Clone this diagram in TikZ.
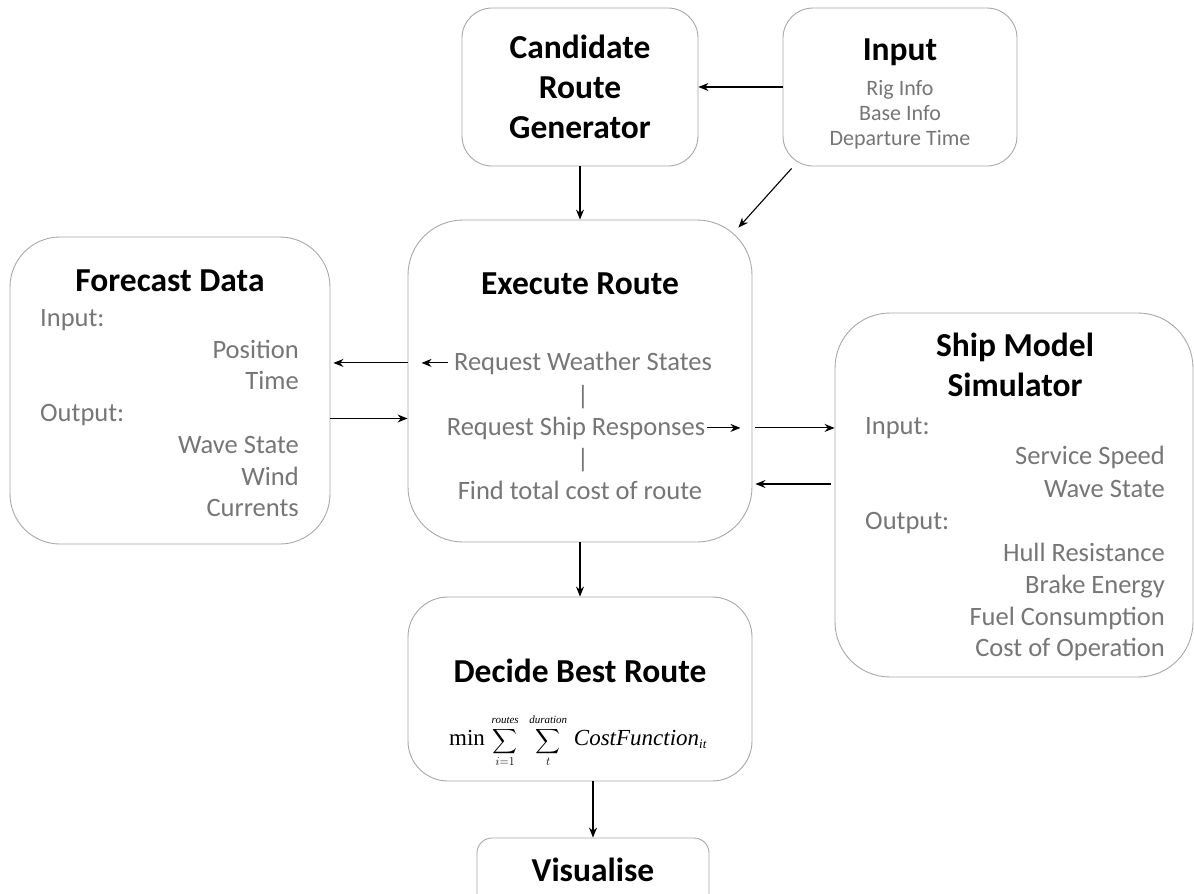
\documentclass[tikz,border=0pt]{standalone}
\usepackage{amsmath}
\usepackage{fontspec}
\setmainfont{Carlito}
\newfontfamily\tnr{Liberation Serif}
\usetikzlibrary{arrows.meta}
\definecolor{txtgray}{HTML}{767676}
\definecolor{boxgray}{HTML}{A8A8A8}
\newcommand{\limtxt}[1]{\mbox{\tnr\itshape\fontsize{11}{11}\selectfont #1}}
\begin{document}
\begin{tikzpicture}[x=1pt,y=-1pt,
  box/.style={draw=boxgray,line width=0.9pt,rounded corners=#1,inner sep=0pt,fill=white},
  ttl/.style={font=\bfseries\fontsize{33.5}{40}\selectfont,align=center,inner sep=0pt},
  gtxt/.style={text=txtgray,font=\fontsize{26.5}{30}\selectfont,inner sep=0pt},
  stxt/.style={text=txtgray,font=\fontsize{22}{26}\selectfont,inner sep=0pt,align=center},
  conn/.style={-{Stealth[length=10pt,width=8pt]},line width=1.1pt,black}]
\useasboundingbox (0,0) rectangle (1194,894);
% boxes
\node[box=30pt,minimum width=236pt,minimum height=158pt] (cand) at (580,87) {};
\node[box=30pt,minimum width=234pt,minimum height=158pt] (input) at (900,87) {};
\node[box=50pt,minimum width=320pt,minimum height=307pt] (fc) at (170,390.5) {};
\node[box=55pt,minimum width=344pt,minimum height=322pt] (exec) at (580,381) {};
\node[box=55pt,minimum width=358pt,minimum height=364pt] (ship) at (1014,495) {};
\node[box=40pt,minimum width=344pt,minimum height=184pt] (decide) at (580,689) {};
\node[box=15pt,minimum width=232pt,minimum height=80pt] (vis) at (593,878) {};
% texts
\node[ttl,anchor=base] (candt) at (580,138) {Candidate\\Route\\Generator};
\node[ttl,anchor=base] (inputt) at (900,60) {Input};
\node[stxt,anchor=base] (in1) at (900,95) {Rig Info};
\node[stxt,anchor=base] (in2) at (900,120) {Base Info};
\node[stxt,anchor=base] (in3) at (900,145) {Departure Time};
\node[ttl,anchor=base] (fct) at (170,291) {Forecast Data};
\node[gtxt,anchor=base west] (fin) at (40,326) {Input:};
\node[gtxt,anchor=base east] (fpos) at (299,358) {Position};
\node[gtxt,anchor=base east] (ftime) at (299,389) {Time};
\node[gtxt,anchor=base west] (fout) at (40,421) {Output:};
\node[gtxt,anchor=base east] (fwave) at (299,453) {Wave State};
\node[gtxt,anchor=base east] (fwind) at (299,485) {Wind};
\node[gtxt,anchor=base east] (fcur) at (299,516) {Currents};
\node[ttl,anchor=base] (exect) at (580,294) {Execute Route};
\node[gtxt,anchor=base] (rw) at (583,370) {Request Weather States};
\node[gtxt,anchor=base] (bar1) at (583,404) {|};
\node[gtxt,anchor=base] (rs) at (576,435) {Request Ship Responses};
\node[gtxt,anchor=base] (bar2) at (583,467) {|};
\node[gtxt,anchor=base] (ft) at (580,499) {Find total cost of route};
\node[ttl,anchor=base] (shipt) at (1015,396) {Ship Model\\Simulator};
\node[gtxt,anchor=base west] (sin) at (865,434) {Input:};
\node[gtxt,anchor=base east] (s1) at (1165,464) {Service Speed};
\node[gtxt,anchor=base east] (s2) at (1165,497) {Wave State};
\node[gtxt,anchor=base west] (sout) at (865,529) {Output:};
\node[gtxt,anchor=base east] (s3) at (1165,561) {Hull Resistance};
\node[gtxt,anchor=base east] (s4) at (1165,593) {Brake Energy};
\node[gtxt,anchor=base east] (s5) at (1165,625) {Fuel Consumption};
\node[gtxt,anchor=base east] (s6) at (1165,656) {Cost of Operation};
\node[ttl,anchor=base] (dect) at (580,682) {Decide Best Route};
\node[inner sep=0pt,font=\fontsize{17}{22}\selectfont] (formula) at (578,741)
  {$\displaystyle\mbox{\tnr\fontsize{23}{23}\selectfont min}\ \sum_{i=1}^{\limtxt{routes}}\ \ \sum_{t}^{\limtxt{duration}}\ \mbox{\tnr\itshape\fontsize{23}{23}\selectfont CostFunction}_{\mbox{\tnr\itshape\fontsize{13}{13}\selectfont it}}$};
\node[ttl,anchor=base] (vist) at (593,881) {Visualise};
% connectors
\draw[conn] (input.west) -- (cand.east);
\draw[conn] (cand.south) -- (exec.north);
\draw[conn] ([xshift=9pt,yshift=-2pt]input.south west) -- ([shift={(-14,8)}]exec.north east);
\draw[conn] ([xshift=-6pt]rw.west) -- ([xshift=14pt]exec.west |- rw.center);
\draw[conn] (exec.west |- rw.center) -- ([xshift=3pt]fc.east |- rw.center);
\coordinate (f2e) at ([yshift=-28pt]fc.east);
\draw[conn] (f2e) -- (f2e -| exec.west);
\draw[conn] ([xshift=2pt]rs.east) -- ([xshift=-12pt]exec.east |- rs.center);
\draw[conn] ([xshift=3pt]exec.east |- rs.center) -- (ship.west |- rs.center);
\coordinate (s2e) at ([yshift=11pt,xshift=-4pt]ship.west);
\draw[conn] (s2e) -- ([xshift=3pt]s2e -| exec.east);
\draw[conn] (exec.south) -- (decide.north);
\draw[conn] (decide.south -| vis.north) -- (vis.north);
\end{tikzpicture}
\end{document}
